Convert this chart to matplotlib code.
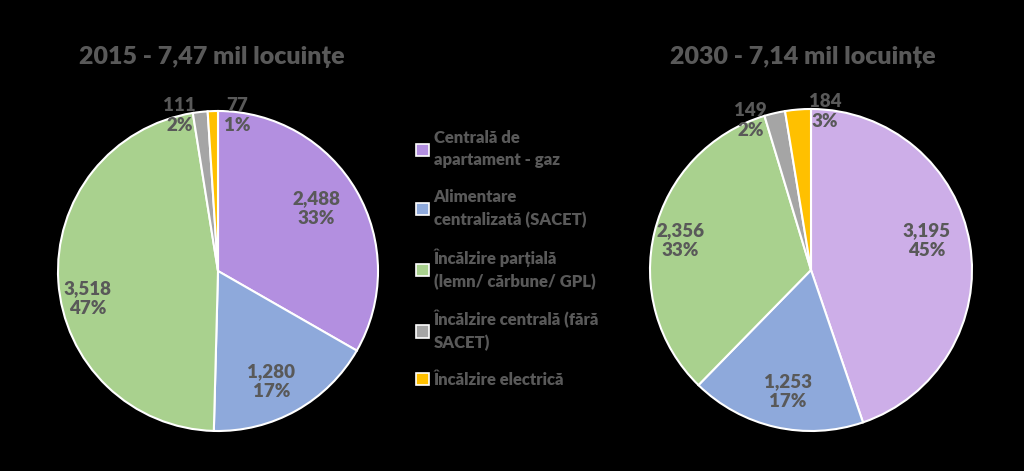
import numpy as np
import matplotlib
matplotlib.use('Agg')
import matplotlib.pyplot as plt
from matplotlib.patches import Patch

# Data
categories = ['Centrală de\napartament - gaz', 'Alimentare\ncentralizată (SACET)',
              'Încălzire parțială\n(lemn/ cărbune/ GPL)', 'Încălzire centrală (fără\nSACET)',
              'Încălzire electrică']
values_2015 = [2488, 1280, 3518, 111, 77]
pct_2015 = ['33%', '17%', '47%', '2%', '1%']
values_2030 = [3195, 1253, 2356, 149, 184]
pct_2030 = ['45%', '17%', '33%', '2%', '3%']
title_2015 = '2015 - 7,47 mil locuințe'
title_2030 = '2030 - 7,14 mil locuințe'

colors_2015 = ['#B38FE0', '#8EA9DB', '#A9D18E', '#A5A5A5', '#FFC000']
colors_2030 = ['#CDAEE8', '#8EA9DB', '#A9D18E', '#A5A5A5', '#FFC000']
text_color = '#595959'

plt.rcParams['font.family'] = ['Lato', 'DejaVu Sans']
plt.rcParams['font.weight'] = 'bold'

W, H = 1024, 471
fig = plt.figure(figsize=(W / 100, H / 100), dpi=100, facecolor='black')


def px_axes(cx, cy, r):
    return fig.add_axes([(cx - r) / W, (H - cy - r) / H, 2 * r / W, 2 * r / H])


def draw_pie(ax, values, pcts, colors, radii, offsets):
    wedges, _ = ax.pie(values, colors=colors, startangle=90, counterclock=False,
                       radius=1.0, wedgeprops=dict(edgecolor='white', linewidth=1.5))
    ax.set_xlim(-1, 1)
    ax.set_ylim(-1, 1)
    ax.set_aspect('equal')
    ax.set_facecolor('black')
    for w, v, p, r, off in zip(wedges, values, pcts, radii, offsets):
        ang = np.deg2rad((w.theta1 + w.theta2) / 2 + off)
        ax.text(r * np.cos(ang), r * np.sin(ang), f'{v:,}\n{p}', ha='center', va='center',
                fontsize=13.5, fontweight='heavy', color=text_color, linespacing=1.2,
                clip_on=False)


ax1 = px_axes(218, 271, 160)
draw_pie(ax1, values_2015, pct_2015, colors_2015,
         [0.73, 0.77, 0.83, 1.0, 0.98], [2.5, -3.6, 8, 7.6, -9])
ax2 = px_axes(811, 270, 161)
draw_pie(ax2, values_2030, pct_2030, colors_2030,
         [0.74, 0.77, 0.83, 1.0, 0.99], [5, 2, 1, 9, -9.7])

fig.text(212 / W, 1 - 57 / H, title_2015, ha='center', va='center', fontsize=18,
         fontweight='heavy', color=text_color)
fig.text(803 / W, 1 - 57 / H, title_2030, ha='center', va='center', fontsize=18,
         fontweight='heavy', color=text_color)

handles = [Patch(facecolor=c, edgecolor='white', linewidth=1.2) for c in colors_2015]
leg = fig.legend(handles, categories, loc='upper left', bbox_to_anchor=(401 / W, 1 - 115 / H),
                 frameon=False, fontsize=12, labelcolor=text_color, handlelength=0.75,
                 handleheight=0.75, handletextpad=0.3, labelspacing=1.22)
for t in leg.get_texts():
    t.set_fontweight('heavy')
    t.set_linespacing(1.5)

fig.savefig('out.png', dpi=100, facecolor='black')
